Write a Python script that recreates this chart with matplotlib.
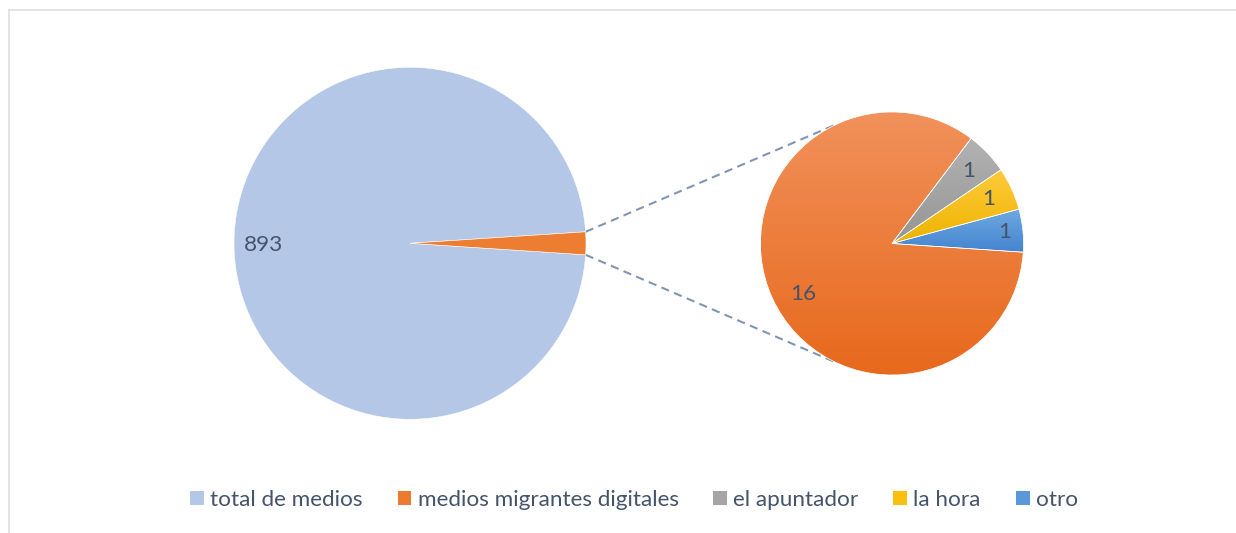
import numpy as np
import matplotlib
matplotlib.use("Agg")
import matplotlib.pyplot as plt
from matplotlib.patches import Patch
from matplotlib.colors import to_rgb

# ---------------- data ----------------
categories = ["total de medios", "medios migrantes digitales", "el apuntador", "la hora", "otro"]
values = [893, 16, 1, 1, 1]
primary_values = [values[0], sum(values[1:])]          # 893, 19 (other)
secondary_labels = categories[1:]
secondary_values = values[1:]                          # 16, 1, 1, 1

# ---------------- style ----------------
W, H = 1236, 533
FONT = "Lato"
FS = 16.2
TXT = "#44546A"
primary_colors = ["#B4C7E7", "#ED7D31"]
sec_grad = [("#F1915B", "#E7691C"),   # orange
            ("#B3B3B3", "#959595"),   # gray
            ("#FFCB3C", "#EEB300"),   # yellow
            ("#70A9E3", "#4485CF")]   # blue
legend_colors = ["#B4C7E7", "#EE7A30", "#A5A5A5", "#FBBF10", "#5A98DA"]

fig = plt.figure(figsize=(W / 100, H / 100), dpi=100)
ax = fig.add_axes([0, 0, 1, 1])
ax.axis("off")

c1, r1 = (410, H - 243.3), 176
c2, r2 = (892, H - 243.5), 131.5

# primary pie (clockwise, "other" wedge centered at 0 deg)
half = 180.0 * primary_values[1] / sum(primary_values)
w1, _ = ax.pie(primary_values, colors=primary_colors, startangle=-half,
               counterclock=False, center=c1, radius=r1,
               wedgeprops=dict(edgecolor="white", linewidth=0.4))

# secondary pie
w2, _ = ax.pie(secondary_values, colors=["none"] * 4, startangle=-3.8,
               counterclock=False, center=c2, radius=r2,
               wedgeprops=dict(edgecolor="white", linewidth=0.5))

ax.set_aspect("equal")

# gradients clipped to each secondary wedge
for i, (w, (top, bot)) in enumerate(zip(w2, sec_grad)):
    ext = w.get_path().get_extents()
    y0, y1 = ext.y0, ext.y1
    if i == 0:
        y0, y1 = c2[1] - r2, c2[1] + r2
    t = np.linspace(0, 1, 256)[:, None]
    ct, cb = np.array(to_rgb(top)), np.array(to_rgb(bot))
    img = (cb[None, :] * (1 - t) + ct[None, :] * t)[:, None, :]
    im = ax.imshow(img, extent=[ext.x0, ext.x1, y0, y1], origin="lower",
                   aspect="auto", interpolation="bilinear", zorder=1.5)
    im.set_clip_path(w)
    w.set_zorder(2)

ax.set_xlim(0, W)
ax.set_ylim(0, H)

# labels
def put_label(wedge, center, r, text, dist, nudge=(0, 0)):
    th = np.deg2rad((wedge.theta1 + wedge.theta2) / 2)
    x = center[0] + dist * r * np.cos(th) + nudge[0]
    y = center[1] + dist * r * np.sin(th) + nudge[1]
    ax.text(x, y, text, ha="center", va="center", color=TXT,
            fontsize=FS, family=FONT, zorder=5)

put_label(w1[0], c1, r1, str(primary_values[0]), 0.83, (0, -2))
sec_nudges = [(7, -7), (0, 0), (0, 0), (0, 0)]
sec_dists = [0.80, 0.80, 0.81, 0.86]
for w, v, d, n in zip(w2, secondary_values, sec_dists, sec_nudges):
    put_label(w, c2, r2, str(v), d, n)

# connector lines (upper corner -> upper point, lower corner -> lower point)
ow = w1[1]
top_a, bot_a = max(ow.theta1, ow.theta2), min(ow.theta1, ow.theta2)
for a1, a2 in [(top_a, 114.5), (bot_a, -114.5)]:
    p1 = (c1[0] + r1 * np.cos(np.deg2rad(a1)), c1[1] + r1 * np.sin(np.deg2rad(a1)))
    p2 = (c2[0] + r2 * np.cos(np.deg2rad(a2)), c2[1] + r2 * np.sin(np.deg2rad(a2)))
    ax.plot([p1[0], p2[0]], [p1[1], p2[1]], color="#8096B4", lw=1.5,
            dashes=(4, 2.6), zorder=0.5)

# chart-area border (top & left visible)
ax.plot([8.5, W + 5], [H - 9.5, H - 9.5], color="#DCE0E6", lw=1.2, clip_on=False)
ax.plot([8.5, 8.5], [-5, H - 9.5], color="#DCE0E6", lw=1.2, clip_on=False)

# legend
handles = [Patch(facecolor=c, edgecolor="none") for c in legend_colors]
leg = fig.legend(handles, categories, loc="center", ncol=5,
                 bbox_to_anchor=(634 / W, (H - 500) / H), frameon=False,
                 prop={"family": FONT, "size": FS}, handlelength=0.62,
                 handleheight=0.62, handletextpad=0.27, columnspacing=1.55,
                 borderpad=0, borderaxespad=0)
for t in leg.get_texts():
    t.set_color(TXT)

fig.savefig("out.png", dpi=100, facecolor="white")
